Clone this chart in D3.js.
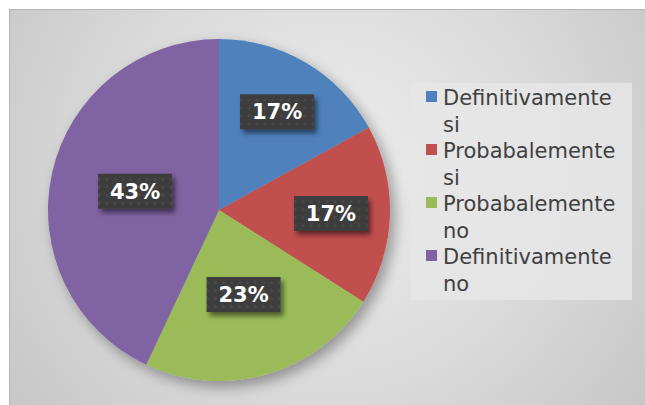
<!DOCTYPE html>
<html>
<head>
<meta charset="utf-8">
<script src="https://cdn.jsdelivr.net/npm/d3@7"></script>
<style>
  body { margin: 0; background: #fff; }
  svg { display: block; }
</style>
</head>
<body>
<svg id="chart"></svg>
<script>
// *********************************************
// DATA
// *********************************************
var categories = ["Definitivamente si", "Probabalemente si", "Probabalemente no", "Definitivamente no"];
var legendLines = [["Definitivamente", "si"], ["Probabalemente", "si"], ["Probabalemente", "no"], ["Definitivamente", "no"]];
var values = [17, 17, 23, 43];
var labels = ["17%", "17%", "23%", "43%"];

// *********************************************
// SETUP
// *********************************************
var width = 645,
    height = 405;

var svg = d3.select("#chart")
    .attr("width", width)
    .attr("height", height);

var colors = d3.scaleOrdinal()
    .domain(categories)
    .range(["#4f81bd", "#c0504d", "#9bbb59", "#8064a2"]);

var defs = svg.append("defs");

// background gradient
var bg = defs.append("radialGradient")
    .attr("id", "bg")
    .attr("gradientUnits", "userSpaceOnUse")
    .attr("cx", 330).attr("cy", 170).attr("r", 420);
bg.append("stop").attr("offset", "0%").attr("stop-color", "#eeeeee");
bg.append("stop").attr("offset", "55%").attr("stop-color", "#d9d9d9");
bg.append("stop").attr("offset", "100%").attr("stop-color", "#c4c4c4");

// pie shadow
var sh = defs.append("filter").attr("id", "pieShadow")
    .attr("x", "-20%").attr("y", "-20%").attr("width", "140%").attr("height", "140%");
sh.append("feGaussianBlur").attr("in", "SourceAlpha").attr("stdDeviation", 7).attr("result", "b");
sh.append("feOffset").attr("in", "b").attr("dx", 5).attr("dy", 6).attr("result", "o");
sh.append("feComponentTransfer").attr("in", "o").attr("result", "o2")
  .append("feFuncA").attr("type", "linear").attr("slope", 0.35);
var m = sh.append("feMerge");
m.append("feMergeNode").attr("in", "o2");
m.append("feMergeNode").attr("in", "SourceGraphic");

// label box shadow
var ls = defs.append("filter").attr("id", "boxShadow")
    .attr("x", "-20%").attr("y", "-30%").attr("width", "150%").attr("height", "180%");
ls.append("feGaussianBlur").attr("in", "SourceAlpha").attr("stdDeviation", 2.5).attr("result", "b");
ls.append("feOffset").attr("in", "b").attr("dx", 3).attr("dy", 4).attr("result", "o");
ls.append("feComponentTransfer").attr("in", "o").attr("result", "o2")
  .append("feFuncA").attr("type", "linear").attr("slope", 0.5);
var m2 = ls.append("feMerge");
m2.append("feMergeNode").attr("in", "o2");
m2.append("feMergeNode").attr("in", "SourceGraphic");

// dotted texture for label boxes
var pat = defs.append("pattern").attr("id", "dots")
    .attr("patternUnits", "userSpaceOnUse")
    .attr("width", 8).attr("height", 8);
pat.append("rect").attr("width", 8).attr("height", 8).attr("fill", "#3d3d3d");
pat.append("circle").attr("cx", 4).attr("cy", 4).attr("r", 1.6).attr("fill", "#4a4a4a");

// chart frame
svg.append("rect")
    .attr("x", 9.5).attr("y", 9.5)
    .attr("width", width).attr("height", height)
    .attr("fill", "url(#bg)")
    .attr("stroke", "#b5b5b5");

// *********************************************
// PIE
// *********************************************
var cx = 219, cy = 210, radius = 171;
// best-fit label distances from centre (layout only)
var labelRadius = [114, 112, 88, 86];

var pie = d3.pie().sort(null).value(d => d);
var arcs = pie(values);

var arc = d3.arc().innerRadius(0).outerRadius(radius);

var g = svg.append("g")
    .attr("transform", "translate(" + cx + "," + cy + ")");

g.append("g")
    .attr("filter", "url(#pieShadow)")
  .selectAll("path")
    .data(arcs)
    .enter().append("path")
    .attr("d", arc)
    .attr("fill", (d, i) => colors(categories[i]));

var lab = g.selectAll(".lab")
    .data(arcs)
    .enter().append("g")
    .attr("class", "lab")
    .attr("transform", function(d, i) {
      var c = d3.arc().innerRadius(labelRadius[i]).outerRadius(labelRadius[i]).centroid(d);
      return "translate(" + c[0] + "," + c[1] + ")";
    });

lab.append("rect")
    .attr("x", -37).attr("y", -17.5)
    .attr("width", 74).attr("height", 35)
    .attr("fill", "url(#dots)")
    .attr("filter", "url(#boxShadow)");

lab.append("text")
    .attr("text-anchor", "middle")
    .attr("dy", "0.36em")
    .attr("fill", "#ffffff")
    .style("font-family", "DejaVu Sans, Verdana, sans-serif")
    .style("font-weight", "bold")
    .style("font-size", "21px")
    .text((d, i) => labels[i]);

// *********************************************
// LEGEND
// *********************************************
svg.append("rect")
    .attr("x", 411).attr("y", 83)
    .attr("width", 221).attr("height", 217)
    .attr("fill", "#e6e6e6")
    .attr("opacity", 0.85);

var lineH = 26.5;
var leg = svg.append("g")
    .attr("transform", "translate(426,105)");

var item = leg.selectAll("g")
    .data(categories)
    .enter().append("g")
    .attr("transform", (d, i) => "translate(0," + (i * 2 * lineH) + ")");

item.append("rect")
    .attr("x", 0).attr("y", -14)
    .attr("width", 11).attr("height", 11)
    .attr("fill", d => colors(d));

item.append("text")
    .style("font-family", "DejaVu Sans, Verdana, sans-serif")
    .style("font-size", "21px")
    .attr("fill", "#404040")
    .selectAll("tspan")
    .data((d, i) => legendLines[i])
    .enter().append("tspan")
    .attr("x", 17)
    .attr("y", (d, j) => j * lineH)
    .text(d => d);
</script>
</body>
</html>
